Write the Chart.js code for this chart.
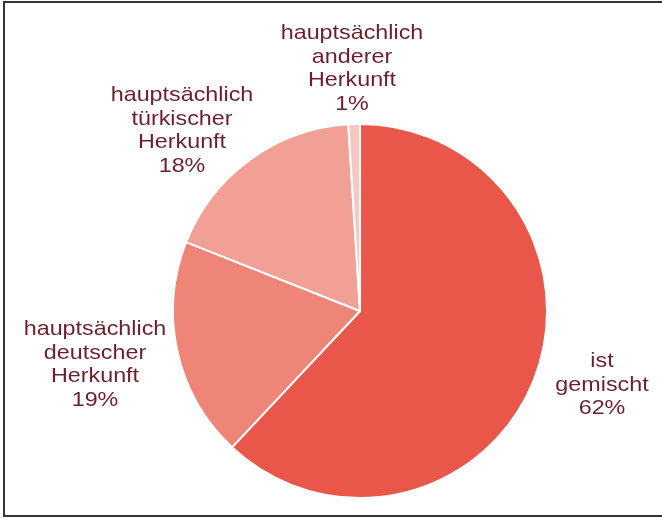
<!DOCTYPE html>
<html>
<head>
<meta charset="utf-8">
<script src="https://cdn.jsdelivr.net/npm/chart.js@4.4.0/dist/chart.umd.min.js"></script>
<style>
  html, body { margin: 0; padding: 0; background: #fff; overflow: hidden; }
  #wrap { position: relative; width: 662px; height: 520px; }
  #frame { position: absolute; left: 3px; top: 1px; width: 700px; height: 512px;
           border: 2px solid #353535; border-right: none; pointer-events: none; }
  canvas { position: absolute; left: 0; top: 0; }
</style>
</head>
<body>
<div id="wrap">
  <canvas id="chart" width="662" height="520"></canvas>
  <div id="frame"></div>
</div>
<script>
// Daten (im Uhrzeigersinn ab 12 Uhr)
const categories = [
  ['ist', 'gemischt'],
  ['hauptsächlich', 'deutscher', 'Herkunft'],
  ['hauptsächlich', 'türkischer', 'Herkunft'],
  ['hauptsächlich', 'anderer', 'Herkunft']
];
const values = [62, 19, 18, 1];

const sliceColors = ['#E8574A', '#EE8577', '#F29F96', '#F6C8C3'];
const textColor = '#6E1F2C';
// Position der Beschriftung: Mitte x, erste Grundlinie y
const labelAnchors = [[602, 367], [95, 335], [182, 101], [352, 39]];

const labelPlugin = {
  id: 'pieLabels',
  afterDraw(chart) {
    const ctx = chart.ctx;
    ctx.save();
    ctx.fillStyle = textColor;
    ctx.font = '21px "Liberation Sans", Arial, sans-serif';
    ctx.textAlign = 'center';
    ctx.textBaseline = 'alphabetic';
    chart.data.labels.forEach((lines, i) => {
      const [x, y] = labelAnchors[i];
      const all = lines.concat([chart.data.datasets[0].data[i] + '%']);
      all.forEach((t, j) => {
        ctx.save();
        ctx.translate(x, y + j * 23.6);
        ctx.scale(1.11, 1);
        ctx.fillText(t, 0, 0);
        ctx.restore();
      });
    });
    ctx.restore();
  }
};

new Chart(document.getElementById('chart'), {
  type: 'pie',
  data: {
    labels: categories,
    datasets: [{
      data: values,
      backgroundColor: sliceColors,
      borderColor: '#ffffff',
      borderWidth: 2
    }]
  },
  options: {
    responsive: false,
    animation: false,
    layout: { padding: { left: 172, right: 114, top: 123, bottom: 21 } },
    plugins: {
      legend: { display: false },
      tooltip: { enabled: false }
    }
  },
  plugins: [labelPlugin]
});
</script>
</body>
</html>
